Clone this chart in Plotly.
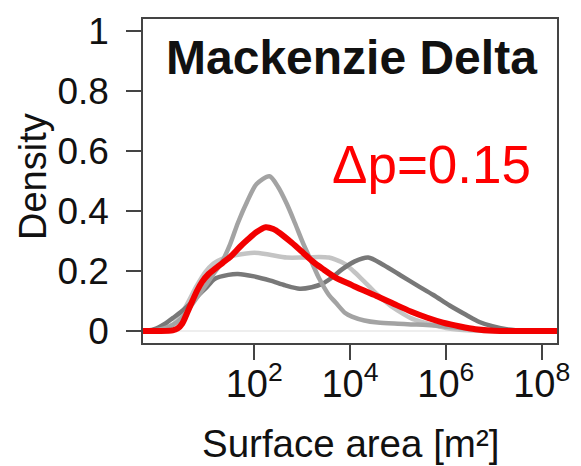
import plotly.graph_objects as go

# log10(surface area) positions and densities
red_lx = [-0.32, 0.0, 0.30, 0.40, 0.50, 0.60, 0.71, 0.81, 0.91, 1.05, 1.18, 1.35, 1.52, 1.70, 1.86, 2.05, 2.24, 2.40, 2.54, 2.78, 3.02, 3.22, 3.43, 3.70, 4.04, 4.24, 4.58, 4.92, 5.27, 5.60, 5.94, 6.30, 6.62, 7.0, 7.5, 8.32]
red_d = [0, 0, 0.002, 0.008, 0.025, 0.06, 0.10, 0.135, 0.163, 0.19, 0.207, 0.228, 0.25, 0.28, 0.304, 0.33, 0.346, 0.34, 0.326, 0.295, 0.261, 0.232, 0.207, 0.178, 0.153, 0.138, 0.115, 0.09, 0.065, 0.045, 0.028, 0.015, 0.006, 0.001, 0, 0]

peak_lx = [-0.32, -0.1, 0.1, 0.30, 0.50, 0.64, 0.80, 0.98, 1.15, 1.32, 1.50, 1.66, 1.85, 2.05, 2.32, 2.50, 2.68, 2.85, 3.02, 3.20, 3.36, 3.56, 3.70, 3.90, 4.04, 4.30, 4.58, 5.00, 5.27, 5.60, 5.94, 6.30, 6.62, 7.0, 7.5, 8.32]
peak_d = [0, 0.002, 0.008, 0.02, 0.045, 0.075, 0.11, 0.15, 0.19, 0.228, 0.29, 0.36, 0.43, 0.49, 0.516, 0.48, 0.424, 0.36, 0.293, 0.23, 0.174, 0.12, 0.095, 0.06, 0.048, 0.035, 0.028, 0.024, 0.022, 0.02, 0.016, 0.01, 0.005, 0.001, 0, 0]

broad_lx = [-0.32, 0.0, 0.2, 0.40, 0.60, 0.80, 0.98, 1.15, 1.32, 1.6, 2.0, 2.3, 2.68, 3.0, 3.36, 3.56, 3.70, 3.90, 4.07, 4.24, 4.41, 4.58, 4.75, 4.92, 5.10, 5.27, 5.50, 5.74, 6.0, 6.29, 6.7, 7.2, 8.32]
broad_d = [0, 0.003, 0.012, 0.035, 0.09, 0.15, 0.196, 0.225, 0.24, 0.252, 0.261, 0.255, 0.245, 0.245, 0.247, 0.245, 0.238, 0.223, 0.2, 0.174, 0.147, 0.12, 0.097, 0.076, 0.058, 0.043, 0.03, 0.02, 0.01, 0.004, 0.001, 0, 0]

dark_lx = [-0.32, -0.1, 0.15, 0.30, 0.47, 0.64, 0.81, 0.98, 1.18, 1.46, 1.66, 2.0, 2.34, 2.65, 2.95, 3.20, 3.43, 3.64, 3.84, 4.10, 4.38, 4.70, 5.06, 5.40, 5.74, 6.08, 6.42, 6.70, 6.97, 7.3, 7.7, 8.32]
dark_d = [0, 0.005, 0.025, 0.043, 0.063, 0.087, 0.115, 0.141, 0.174, 0.187, 0.19, 0.182, 0.168, 0.152, 0.141, 0.146, 0.158, 0.18, 0.206, 0.232, 0.245, 0.22, 0.185, 0.152, 0.12, 0.085, 0.054, 0.03, 0.016, 0.005, 0.001, 0]

y_ticks = [0, 0.2, 0.4, 0.6, 0.8, 1]
y_ticktext = ["0", "0.2", "0.4", "0.6", "0.8", "1"]
x_ticks = [1e2, 1e4, 1e6, 1e8]
x_ticktext = ["10<sup>2</sup>", "10<sup>4</sup>", "10<sup>6</sup>", "10<sup>8</sup>"]

title_text = "<b>Mackenzie Delta</b>"
delta_text = "Δp=0.15"

FONT = "Liberation Sans, Arial, sans-serif"

fig = go.Figure()

def add(lx, d, color, width):
    fig.add_trace(go.Scatter(
        x=[10 ** v for v in lx], y=d, mode="lines",
        line=dict(color=color, width=width, shape="spline", smoothing=0.8),
        hoverinfo="skip", showlegend=False))

add(broad_lx, broad_d, "#c4c4c4", 4.5)
add(dark_lx, dark_d, "#787878", 4.5)
add(peak_lx, peak_d, "#a3a3a3", 4.5)
add(red_lx, red_d, "#f20000", 6)

fig.update_layout(
    width=581, height=466,
    margin=dict(l=143, r=14, t=11, b=123),
    paper_bgcolor="white", plot_bgcolor="white",
    font=dict(family=FONT, color="#111111"),
    xaxis=dict(
        type="log", range=[-0.32, 8.32],
        tickvals=x_ticks, ticktext=x_ticktext,
        ticks="outside", ticklen=15, tickwidth=1.5, tickcolor="#444444",
        tickfont=dict(size=38, family=FONT, color="#111111"),
        ticklabelstandoff=-8,
        showgrid=False, zeroline=False,
        showline=True, linecolor="#444444", linewidth=1.5, mirror=True,
    ),
    yaxis=dict(
        range=[-0.04, 1.04],
        tickvals=y_ticks, ticktext=y_ticktext,
        ticks="outside", ticklen=15, tickwidth=1.5, tickcolor="#444444",
        tickfont=dict(size=37, family=FONT, color="#111111"),
        ticklabelstandoff=10,
        showgrid=False,
        zeroline=True, zerolinecolor="#eeeeee", zerolinewidth=2,
        showline=True, linecolor="#444444", linewidth=1.5, mirror=True,
    ),
    annotations=[
        dict(text=title_text, xref="paper", yref="paper", x=0.503, y=0.88,
             xanchor="center", yanchor="middle", showarrow=False,
             font=dict(size=48, family=FONT, color="#111111")),
        dict(text=delta_text, xref="paper", yref="paper", x=0.697, y=0.55,
             xanchor="center", yanchor="middle", showarrow=False,
             font=dict(size=53, family=FONT, color="#ff0000")),
        dict(text="Density", xref="paper", yref="paper", x=-0.266, y=0.515,
             xanchor="center", yanchor="middle", showarrow=False, textangle=-90,
             font=dict(size=38, family=FONT, color="#111111")),
        dict(text="Surface area [m²]", xref="paper", yref="paper", x=0.5, y=-0.31,
             xanchor="center", yanchor="middle", showarrow=False,
             font=dict(size=38.5, family=FONT, color="#111111")),
    ],
)

fig.write_html("out.html")
